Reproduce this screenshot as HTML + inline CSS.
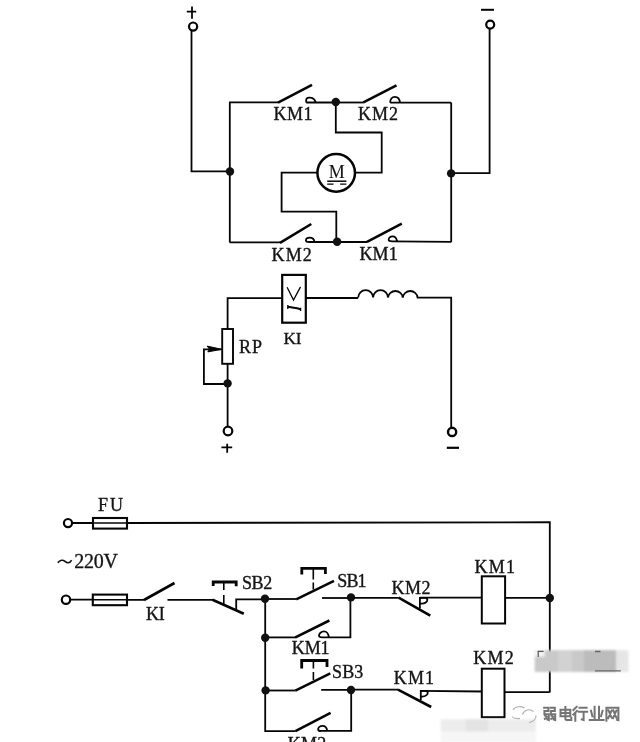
<!DOCTYPE html>
<html><head><meta charset="utf-8"><style>
html,body{margin:0;padding:0;background:#fff;width:640px;height:742px;overflow:hidden}
svg{display:block;filter:grayscale(1)}
text{font-family:"Liberation Serif",serif;fill:#141414;stroke:#141414;stroke-width:0.35px}
</style></head><body>
<svg width="640" height="742" viewBox="0 0 640 742">
<g fill="none" stroke="#050505" stroke-width="1.8" stroke-linejoin="miter" stroke-linecap="butt">
<!-- ===== TOP: motor reversing ===== -->
<!-- + terminal -->
<path d="M186.8 11.6H196.2M192 6.6V18.8" stroke-width="1.8"/>
<circle cx="193.1" cy="26.6" r="4.1" stroke-width="2.2"/>
<path d="M191.5 31V171.4H230"/>
<!-- - terminal -->
<path d="M481 9.8H494" stroke-width="2"/>
<circle cx="490.2" cy="24.6" r="4" stroke-width="2.2"/>
<path d="M489.6 28.8V173.2H451.5"/>
<!-- box left/right -->
<path d="M229.8 102.4V242.5"/>
<path d="M451.2 102.6V242.2"/>
<!-- top rail -->
<path d="M229 102.4H278.5"/>
<path d="M278 102.6L312 84.8" stroke-width="2.6"/>
<path d="M306.2 102.5V100C306.2 97.8 308.4 97.3 310.6 97.7C313.2 98.1 315 99.9 315.8 102.5H336M306.2 102.5H316"/>
<path d="M336 102.5H363.8"/>
<path d="M363.4 102.4L396.5 85.3" stroke-width="2.6"/>
<path d="M390.2 102.6C390 99.4 392 96.9 394.8 96.9C397.6 96.9 399.6 99.2 400 102.6H451.2M390.2 102.6H400"/>
<!-- bottom rail -->
<path d="M229.8 242.4H280.5"/>
<path d="M280 242.8L311.3 224" stroke-width="2.6"/>
<path d="M314.6 242C314.2 238.8 311.6 237.6 309.6 237.6C307.2 237.6 305.9 239 305.9 240.4C305.9 241.8 307.6 242 309.6 242H367.4"/>
<path d="M367 241.8L401.8 223.6" stroke-width="2.6"/>
<path d="M397 241.4C396.6 238.2 394.6 236.4 392.6 236.4C390.2 236.4 388.6 238.2 388.6 239.8C388.6 241.2 390.2 241.4 392.6 241.4L451.2 241.9"/>
<!-- motor wiring -->
<path d="M335.8 102.2V132.5H381.7V172.7H356"/>
<path d="M317 172.7H281.6V211.7H336.3V241.6"/>
<circle cx="336.2" cy="172.85" r="18.8" stroke-width="2.5"/>
<path d="M327.2 181.2H346.4" stroke-width="1.5"/>
<path d="M327.2 184.1H333.5M340.1 184.1H346.4" stroke-width="1.4"/>

<!-- ===== MIDDLE: relay ===== -->
<path d="M227.6 329V298.2H281.8"/>
<rect x="282.2" y="274.9" width="23.6" height="47.8" stroke-width="2.2"/>
<path d="M287.1 287.3L293.5 300L300.5 286.9" stroke-width="1.3"/>
<path d="M287.8 306.8C292 307.6 296.5 308 300.6 309.2" stroke-width="2"/>
<path d="M287.8 305.1V308.9M300.6 307.7V311.1" stroke-width="1.3"/>
<path d="M305.8 298H358.2"/>
<path d="M358.2 297.6A7.45 7.45 0 0 1 373.1 297.6A7.45 7.45 0 0 1 388 297.6A7.45 7.45 0 0 1 402.8 297.6A7.45 7.45 0 0 1 417.6 297.6H451.2V427.6" stroke-width="1.8"/>
<circle cx="452.1" cy="431.9" r="4.1" stroke-width="2.4"/>
<path d="M446.8 447.8H459" stroke-width="2.2"/>
<rect x="222.2" y="329" width="10.8" height="34.8" stroke-width="1.9"/>
<path d="M227.6 363.8V426.8"/>
<path d="M222 349.3H203.9V384H227.6"/>
<path d="M221.6 349.3L207.2 346.1L209.6 349.3L207.8 351.9Z" fill="#050505" stroke-width="1"/>
<circle cx="228" cy="431" r="4.3" stroke-width="2.2"/>
<path d="M221.4 447.4H232.2M227.2 443.8V452.8" stroke-width="1.8"/>

<!-- ===== BOTTOM: control ===== -->
<circle cx="68" cy="523.1" r="4.1" stroke-width="2.2"/>
<path d="M72 523H93M127 523L549.8 522.2V692.4"/>
<rect x="93" y="518" width="34" height="10.6" stroke-width="2.1"/>
<path d="M93 523H127" stroke-width="1.5"/>
<circle cx="66" cy="599.7" r="4.2" stroke-width="2.2"/>
<path d="M70.2 599.7H92M127.6 599.8H144.2"/>
<rect x="92.8" y="594.6" width="34.2" height="10.6" stroke-width="2.1"/>
<path d="M92.8 599.7H127" stroke-width="1.5"/>
<path d="M144 600L174.5 583" stroke-width="2.6"/>
<path d="M167.5 599.8H213"/>
<!-- SB2 NC pushbutton -->
<path d="M212.5 599.8L243.8 613.8" stroke-width="2.6"/>
<path d="M265 599.4H236.2V610"/>
<path d="M213.2 586V582H236.2V586.2" stroke-width="2.8"/>
<path d="M223.8 582V590M223.8 595V605" stroke-width="1.6"/>
<!-- junction col -->
<path d="M265.2 598.8V731.2H295.6"/>
<!-- SB1 -->
<path d="M265.2 599H296.4"/>
<path d="M296.2 599.4L334 580.9" stroke-width="2.6"/>
<path d="M322 598H351"/>
<path d="M301.8 574.4V568.3H325.4V574" stroke-width="2.8"/>
<path d="M313.3 568.3V579.6M313.3 582.6V589.5" stroke-width="1.6"/>
<!-- KM1 hold -->
<path d="M265.2 637.4H296"/>
<path d="M295.4 637.3L329.4 620.5" stroke-width="2.6"/>
<path d="M328.8 637.4C328.6 634 326.6 631.4 324 631.4C321.2 631.4 319 633.6 319 635.6C319 637 320.4 637.4 322 637.4H350.4V597.6"/>
<!-- KM2 NC -->
<path d="M351 597.8H398.8"/>
<path d="M398.6 597.6L430.3 615.6" stroke-width="2.6"/>
<path d="M419.9 608.6V597.9H424.8C428 597.9 427.9 600.7 426.1 602.2C424.5 603.5 421.8 603.8 419.9 603.6" stroke-width="1.8"/>
<path d="M419.9 597.7H481.8"/>
<rect x="481.8" y="576.3" width="23.3" height="47.2" stroke-width="2"/>
<path d="M505 597.9H549.8"/>
<!-- SB3 -->
<path d="M265.4 690.5H295.6"/>
<path d="M295.4 690.6L330.3 673.4" stroke-width="2.6"/>
<path d="M321.2 689.8H351.2V730.8H318.6"/>
<path d="M301.7 668.5V660.5H327V667" stroke-width="2.8"/>
<path d="M313.4 660.5V668.5M313.4 672V680" stroke-width="1.6"/>
<!-- KM2 hold -->
<path d="M295.4 731.2L330.6 712.9" stroke-width="2.6"/>
<path d="M327.3 731C326.8 727.8 324.8 725.8 322.6 725.8C320 725.8 318.1 727.6 318.1 729.3C318.1 730.7 319.4 731 321 731"/>
<!-- KM1 NC -->
<path d="M351.2 689.6H398.2"/>
<path d="M398 689.6L431.2 707" stroke-width="2.6"/>
<path d="M420.8 700V690.9H425.2C428.4 690.9 428.3 693.7 426.5 695.1C424.9 696.4 422.6 696.7 420.8 696.5" stroke-width="1.8"/>
<path d="M420.8 690.9L482 691.5"/>
<rect x="481.8" y="668.7" width="22.7" height="48.5" stroke-width="2"/>
<path d="M504.5 692.2H549.6"/>
</g>
<!-- junction dots -->
<g fill="#111">
<circle cx="230" cy="171.5" r="4.2"/>
<circle cx="451.1" cy="173.4" r="4.2"/>
<circle cx="335.8" cy="102" r="4.2"/>
<circle cx="337.1" cy="241.7" r="4.2"/>
<circle cx="227.6" cy="383.4" r="4.2"/>
<circle cx="265" cy="598.8" r="4.2"/>
<circle cx="351" cy="597.4" r="4.2"/>
<circle cx="549.8" cy="598" r="4.2"/>
<circle cx="265.2" cy="637.7" r="4.2"/>
<circle cx="265.6" cy="690.4" r="4.2"/>
<circle cx="351" cy="690" r="4.2"/>
</g>

<!-- watermark -->
<defs><filter id="bl" x="-10%" y="-20%" width="120%" height="140%"><feGaussianBlur stdDeviation="0.9"/></filter></defs>
<g stroke="none" filter="url(#bl)">
<rect x="534.7" y="650.2" width="81.5" height="21.8" fill="#c9c9c9"/>
<rect x="534.7" y="650.2" width="10" height="6.5" fill="#f2f2f2"/>
<rect x="558" y="650.2" width="14" height="21.8" fill="#d2d2d2"/>
<rect x="584" y="650.2" width="32" height="21.8" fill="#bcbcbc"/>
<rect x="616" y="650.2" width="12.5" height="21.8" fill="#e6e6e6"/>
<rect x="440.8" y="719.3" width="95.2" height="12.4" fill="#ececec"/>
<rect x="466" y="719.3" width="22" height="12.4" fill="#e3e3e3"/>
<rect x="440.8" y="731.7" width="95.2" height="10.3" fill="#f6f6f6"/>
</g>
<path d="M538.2 657V651.4H543.6" fill="none" stroke="#555" stroke-width="1.2"/>
<path d="M595 670.9H620.8M595 651.5H600.5" fill="none" stroke="#666" stroke-width="1.4"/>

<g fill="none" stroke="#747474" stroke-width="2" stroke-linecap="square" stroke-linejoin="miter">
<g transform="translate(543.6 706.9)">
<path d="M0.5 0.8H4.8V4.2H0.8V7.4H5.2V13.2L3.8 12.6M1.6 8.8L3 9.8M1.2 12L3 10.8"/>
<path d="M6.8 0.8H11.2V4.2H7.2V7.4H11.6V13.2L10.2 12.6M8 8.8L9.4 9.8M7.6 12L9.4 10.8"/>
</g>
<g transform="translate(559.7 706.9)">
<path d="M0.8 2.8H10.6V9.4H0.8ZM0.8 6.1H10.6M5.7 0V12.2Q5.7 13 6.6 13H11.6V10.8"/>
</g>
<g transform="translate(573 706.6)">
<path d="M3.6 0.2L0.4 3.4M4 4.2L0.3 8M2.3 6.4V14.2M6.5 1.2H13.6M5.8 5.2H14.2M10.6 5.2V13.4L8.8 12.8"/>
</g>
<g transform="translate(589.8 706.8)">
<path d="M4.8 0V12.6M9.2 0V12.6M1.2 4L2.6 9.4M12.8 4L11.2 9.4M0 13.2H13.8"/>
</g>
<g transform="translate(605.8 707)">
<path d="M0.6 13.8V0.7H12.6V13.2L11.2 12.8M2.6 3.2L5.8 10.6M5.8 3.6L2.4 11.2M7.4 3.2L10.6 10.6M10.6 3.6L7.2 11.2"/>
</g>
</g>
<g fill="none" stroke="#b0b0b0" stroke-width="1.1">
<path d="M522.5 714.5C524 709.5 530 708.5 533.5 711.5M529 722.5C533 722.2 536.5 719 536 715.5"/>
<path d="M513 710C515 706 521 705.8 524.5 708M512 716.5C514 719 517 718.8 520 718.4"/>
</g>
<!-- labels -->
<g font-size="18">
<text x="273.5" y="119.5" textLength="39" lengthAdjust="spacing">KM1</text>
<text x="358" y="120" textLength="40" lengthAdjust="spacing">KM2</text>
<text x="271.5" y="260.6" textLength="40.3" lengthAdjust="spacing">KM2</text>
<text x="359.4" y="259.9" textLength="38.4" lengthAdjust="spacing">KM1</text>
<text x="239" y="352.5" textLength="23" lengthAdjust="spacing">RP</text>
<text x="283.6" y="343.8" font-size="17.3" textLength="18" lengthAdjust="spacing">KI</text>
<text x="98" y="510.5" textLength="25.1" lengthAdjust="spacing">FU</text>
<text x="146" y="620.1" textLength="18.8" lengthAdjust="spacing">KI</text>
<text x="241.9" y="589.4" textLength="30.3" lengthAdjust="spacing">SB2</text>
<text x="337.3" y="586.6" textLength="29.3" lengthAdjust="spacing">SB1</text>
<text x="391.6" y="594.2" textLength="39" lengthAdjust="spacing">KM2</text>
<text x="474.5" y="572.6" textLength="40.5" lengthAdjust="spacing">KM1</text>
<text x="291.8" y="654.3" textLength="37.8" lengthAdjust="spacing">KM1</text>
<text x="332" y="677.5" textLength="31.3" lengthAdjust="spacing">SB3</text>
<text x="393.8" y="683.6" textLength="40.2" lengthAdjust="spacing">KM1</text>
<text x="473.3" y="663.6" textLength="40.4" lengthAdjust="spacing">KM2</text>
<text x="287.7" y="750" textLength="38.6" lengthAdjust="spacing">KM2</text>
</g>
<text x="74.3" y="568" font-size="20" textLength="43.7" lengthAdjust="spacing">220V</text>
<path d="M57.8 562.8C60 559.6 63 559.6 65 561.4C67 563.2 70 563.4 71.6 560.2" fill="none" stroke="#111" stroke-width="1.6"/>
<text x="328.8" y="177.7" font-size="19.5" textLength="16" lengthAdjust="spacingAndGlyphs" style="stroke-width:0.1px">M</text>
</svg>
</body></html>
